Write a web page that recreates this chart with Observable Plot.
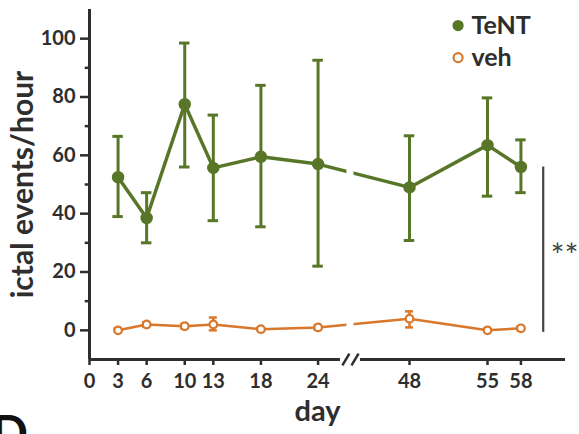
<!DOCTYPE html>
<html>
<head>
<meta charset="utf-8">
<script src="https://cdn.jsdelivr.net/npm/d3@7"></script>
<script src="https://cdn.jsdelivr.net/npm/@observablehq/plot@0.6"></script>
<style>
  body { margin: 0; background: #fff; }
  svg g[aria-label^="x-axis"] line, svg g[aria-label^="y-axis"] line,
  svg g[aria-label="x-axis tick"] path, svg g[aria-label="y-axis tick"] path { stroke-width: 2.5px; }
</style>
</head>
<body>
<div id="chart"></div>
<script>
// ---- data ----
const days      = [3, 6, 10, 13, 18, 24, 48, 55, 58];
const tentMean  = [52.5, 38.5, 77.5, 55.7, 59.5, 57.0, 49.0, 63.5, 56.0];
const tentLow   = [39.0, 30.0, 56.0, 37.6, 35.5, 22.0, 30.8, 46.0, 47.2];
const tentHigh  = [66.5, 47.2, 98.5, 73.8, 84.0, 92.6, 66.7, 79.7, 65.3];
const vehMean   = [0.0, 2.0, 1.4, 2.0, 0.4, 1.0, 4.0, 0.0, 0.7];
const vehLow    = [0.0, 1.2, 0.6, 0.0, 0.0, 0.2, 1.0, 0.0, 0.0];
const vehHigh   = [0.6, 2.8, 2.2, 4.4, 1.0, 1.8, 6.5, 0.6, 1.4];
const xTickDays = [0, 3, 6, 10, 13, 18, 24, 48, 55, 58];
const yTicks    = [0, 20, 40, 60, 80, 100];
const yMinor    = [10, 30, 50, 70, 90];
const seriesNames = ["TeNT", "veh"];
const sigLabel  = "**";
const sigDay    = 60, sigTop = 56, sigBottom = -0.7;
const breakDay  = 32.5;

const green = "#587628", orange = "#d9772b", ink = "#2e2e2e";

// broken (piecewise) day axis: 0–24 compressed differently from 48–58
const pos = d3.scaleLinear().domain([0, 24, 48, 58]).range([0, 24, 33.6, 45.3]);
const xEnd = pos(62);
const bU = pos(breakDay);

const tent = days.map((d, i) => ({u: pos(d), m: tentMean[i], lo: tentLow[i], hi: tentHigh[i]}));
const veh  = days.map((d, i) => ({u: pos(d), m: vehMean[i], lo: vehLow[i], hi: vehHigh[i]}));

const errorBars = (data, color, w, cap) => [
  Plot.ruleX(data, {x: "u", y1: "lo", y2: "hi", stroke: color, strokeWidth: w}),
  Plot.ruleY(data, {y: "hi", x1: d => d.u - cap, x2: d => d.u + cap, stroke: color, strokeWidth: w}),
  Plot.ruleY(data, {y: "lo", x1: d => d.u - cap, x2: d => d.u + cap, stroke: color, strokeWidth: w})
];

const chart = Plot.plot({
  width: 579,
  height: 434,
  marginLeft: 89,
  marginRight: 14,
  marginTop: 9,
  marginBottom: 75,
  style: {fontFamily: "Lato, 'Open Sans', sans-serif", fontWeight: "bold", fontSize: "20px", color: ink, background: "#fff"},
  x: {domain: [0, xEnd], ticks: xTickDays.map(pos), tickFormat: d => String(Math.round(pos.invert(d))), tickSize: 6, tickPadding: 8, label: null},
  y: {domain: [-10, 110], ticks: yTicks, tickSize: 9, tickPadding: 5, label: null},
  marks: [
    // axis lines
    Plot.ruleX([0], {y1: -10, y2: 110, stroke: ink, strokeWidth: 3}),
    Plot.ruleY([[0, bU - 1.05], [bU + 1.05, xEnd]], {y: -10, x1: d => d[0], x2: d => d[1], stroke: ink, strokeWidth: 3}),
    Plot.link([-0.48, 0.48], {x1: d => bU + d - 0.37, x2: d => bU + d + 0.37, y1: -12, y2: -8, stroke: ink, strokeWidth: 2.5}),
    Plot.ruleY(yMinor, {x1: -0.45, x2: 0, stroke: ink, strokeWidth: 2.5}),
    // series lines
    Plot.line(tent, {x: "u", y: "m", stroke: green, strokeWidth: 3.5}),
    Plot.line(veh, {x: "u", y: "m", stroke: orange, strokeWidth: 2.5}),
    // gap in the lines at the axis break
    Plot.rect([0], {x1: bU - 0.37, x2: bU + 0.37, y1: -5, y2: 108, fill: "#fff"}),
    ...errorBars(tent, green, 3, 0.55),
    ...errorBars(veh, orange, 2.5, 0.42),
    Plot.dot(tent, {x: "u", y: "m", r: 5.5, fill: green, stroke: green}),
    Plot.dot(veh, {x: "u", y: "m", r: 3.8, fill: "#fff", stroke: orange, strokeWidth: 2.2}),
    // significance
    Plot.ruleX([pos(sigDay)], {y1: sigTop, y2: sigBottom, stroke: "#444", strokeWidth: 2.2}),
    Plot.text([sigLabel], {x: xEnd - 0.1, y: 25.5, fontSize: 33, fontWeight: "normal", fill: "#444"}),
    // legend
    Plot.dot(seriesNames, {x: 38.7, y: (d, i) => i === 0 ? 104.5 : 93.5, r: 4.5, fill: (d, i) => i === 0 ? green : "#fff", stroke: (d, i) => i === 0 ? green : orange, strokeWidth: 2.2}),
    Plot.text(seriesNames, {x: 40.1, y: (d, i) => i === 0 ? 104.5 : 93.5, text: d => d, textAnchor: "start", fontSize: 25, fontWeight: "bold", fill: ink}),
    // axis titles
    Plot.text(["ictal events/hour"], {x: -6.9, y: 50, rotate: -90, fontSize: 30, fontWeight: "bold", fill: ink}),
    Plot.text(["day"], {frameAnchor: "bottom", dx: -10, dy: 61, fontSize: 29, fontWeight: "bold", fill: ink}),
    // cut-off panel letter (partially visible in the reference)
    Plot.text(["D"], {frameAnchor: "bottom-left", dx: -98, dy: 90, textAnchor: "start", fontSize: 48, fontWeight: "bold", fill: "#111"})
  ]
});
document.getElementById("chart").appendChild(chart);
</script>
</body>
</html>
